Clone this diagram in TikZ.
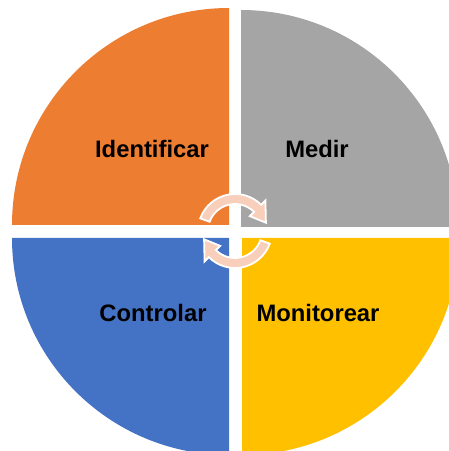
\documentclass[tikz,border=0pt]{standalone}
\usepackage{fontspec}
\setmainfont{Liberation Sans}
\usetikzlibrary{calc}
\definecolor{qorange}{HTML}{ED7D31}
\definecolor{qgray}{HTML}{A5A5A5}
\definecolor{qblue}{HTML}{4472C4}
\definecolor{qyellow}{HTML}{FFC000}
\definecolor{peach}{HTML}{F8CFBA}
\begin{document}
\begin{tikzpicture}[x=1pt,y=1pt,
  lbl/.style={font=\fontsize{23.8}{26}\selectfont\bfseries, text=black, inner sep=0pt},
  cyc/.style={fill=peach, draw=white, line width=1.8pt, line join=miter}]
\useasboundingbox (0,0) rectangle (449,451);
\begin{scope}
\clip (0,0) rectangle (449,451);
\fill[qorange] (229,226) -- ++(-217,0) arc[start angle=180,end angle=90,radius=217] -- cycle;
\fill[qgray] (241,224) -- ++(0,217) arc[start angle=90,end angle=0,radius=217] -- cycle;
\fill[qblue] (229,213) -- ++(0,-217) arc[start angle=270,end angle=180,radius=217] -- cycle;
\fill[qyellow] (242,213) -- ++(217,0) arc[start angle=0,end angle=-90,radius=217] -- cycle;
\end{scope}
\node[lbl] (ident) at (152,302) {Identificar};
\node[lbl] (medir) at (317,302) {Medir};
\node[lbl] (ctrl) at (153,138) {Controlar};
\node[lbl] (mon) at (318,138) {Monitorear};
\coordinate (C) at (235,220);
\draw[cyc] ($(C)+(160:37)$) arc[start angle=160,end angle=45,radius=37]
  -- ($(C)+(45:43)$) -- ($(C)+(15:32)$) -- ($(C)+(45:21)$) -- ($(C)+(45:27)$)
  arc[start angle=45,end angle=160,radius=27] -- cycle;
\draw[cyc] ($(C)+(340:37)$) arc[start angle=340,end angle=225,radius=37]
  -- ($(C)+(225:43)$) -- ($(C)+(195:32)$) -- ($(C)+(225:21)$) -- ($(C)+(225:27)$)
  arc[start angle=225,end angle=340,radius=27] -- cycle;
\end{tikzpicture}
\end{document}
